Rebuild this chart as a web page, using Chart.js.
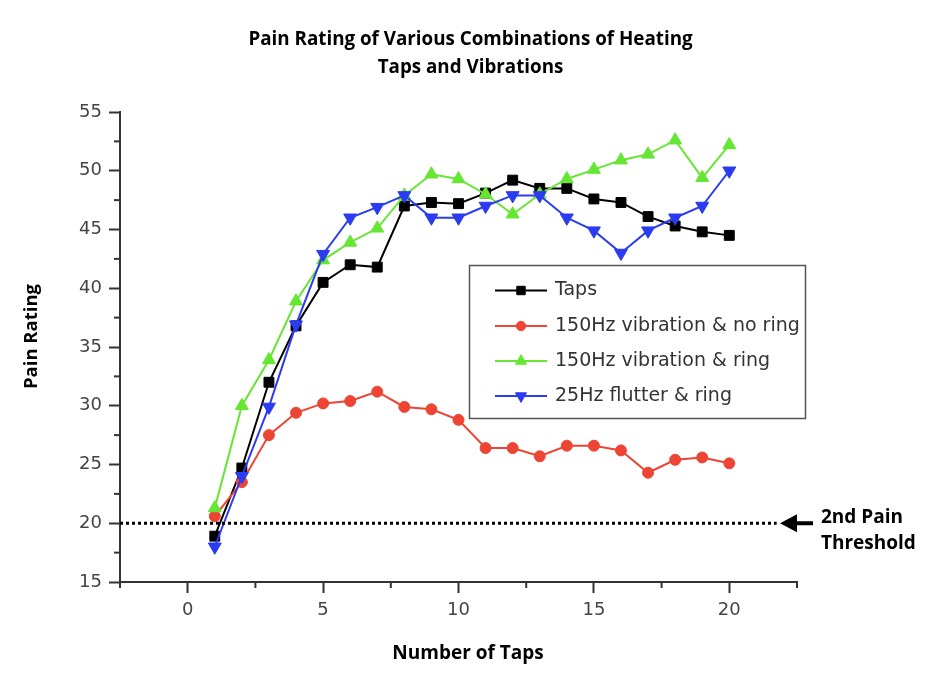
<!DOCTYPE html>
<html><head><meta charset="utf-8">
<script src="https://cdn.jsdelivr.net/npm/chart.js@4.4.1/dist/chart.umd.min.js"></script>
<style>html,body{margin:0;padding:0;background:#fff}#wrap{width:936px;height:700px}</style>
</head><body><div id="wrap"><canvas id="c" width="936" height="700"></canvas></div>
<script>
// ---- data ----
const taps = [1,2,3,4,5,6,7,8,9,10,11,12,13,14,15,16,17,18,19,20];
const tapsRating    = [18.9,24.7,32.0,36.8,40.5,42.0,41.8,47.0,47.3,47.2,48.1,49.2,48.5,48.5,47.6,47.3,46.1,45.3,44.8,44.5];
const noRingRating  = [20.6,23.5,27.5,29.4,30.2,30.4,31.2,29.9,29.7,28.8,26.4,26.4,25.7,26.6,26.6,26.2,24.3,25.4,25.6,25.1];
const ringRating    = [21.3,30.0,33.9,38.9,42.4,43.9,45.1,47.9,49.7,49.3,48.0,46.3,48.0,49.3,50.1,50.9,51.4,52.6,49.4,52.2];
const flutterRating = [18.0,24.0,29.9,36.9,42.9,46.0,46.9,47.9,46.0,46.0,47.0,47.9,47.9,46.0,44.9,43.0,44.9,46.0,47.0,50.0];
const seriesLabels = ['Taps','150Hz vibration & no ring','150Hz vibration & ring','25Hz flutter & ring'];
const xTickLabels = [0,5,10,15,20];
const yTickLabels = [15,20,25,30,35,40,45,50,55];
const thresholdValue = 20;
const thresholdEnd = 21.75;
const titleLines = ['Pain Rating of Various Combinations of Heating','Taps and Vibrations'];
const xTitle = 'Number of Taps';
const yTitle = 'Pain Rating';
const thresholdLabel = ['2nd Pain','Threshold'];

const colors = ['#000000','#EE4433','#66E633','#2B3BF0'];
const styles = [
  {pointStyle:'rect', radius:7, rotation:0},
  {pointStyle:'circle', radius:5.5, rotation:0},
  {pointStyle:'triangle', radius:7.5, rotation:0},
  {pointStyle:'triangle', radius:7.5, rotation:180}
];
const seriesValues = [tapsRating, noRingRating, ringRating, flutterRating];

const datasets = seriesValues.map((vals,i)=>({
  label: seriesLabels[i],
  data: taps.map((x,j)=>({x:x, y:vals[j]})),
  borderColor: colors[i], backgroundColor: colors[i],
  pointBackgroundColor: colors[i], pointBorderColor: colors[i],
  pointStyle: styles[i].pointStyle, pointRadius: styles[i].radius, pointRotation: styles[i].rotation,
  pointBorderWidth: 1, borderWidth: 2, tension: 0, order: 4 - i
}));
datasets.push({
  label: 'threshold',
  data: [{x:-2.5,y:thresholdValue},{x:thresholdEnd,y:thresholdValue}],
  borderColor:'#000', borderWidth:3, borderDash:[3,3], pointRadius:0, order:0
});

const AX = '#333333';
function axisCommon(labels){
  return {
    grid:{display:true, drawOnChartArea:false, drawTicks:true, tickLength:11, tickWidth:2,
      tickColor: c => (c.tick && labels.includes(c.tick.value)) ? AX : 'rgba(0,0,0,0)'},
    border:{display:true, color:AX, width:2}
  };
}

const decor = {
  id:'decor',
  afterDraw(chart){
    const ctx = chart.ctx, xs = chart.scales.x, ys = chart.scales.y;
    ctx.save();
    // minor ticks
    ctx.strokeStyle = AX; ctx.lineWidth = 2;
    xs.ticks.forEach(t=>{ if(!xTickLabels.includes(t.value)){ const p = xs.getPixelForValue(t.value); ctx.beginPath(); ctx.moveTo(p, xs.top); ctx.lineTo(p, xs.top+6); ctx.stroke(); }});
    ys.ticks.forEach(t=>{ if(!yTickLabels.includes(t.value)){ const p = ys.getPixelForValue(t.value); ctx.beginPath(); ctx.moveTo(ys.right, p); ctx.lineTo(ys.right-6, p); ctx.stroke(); }});
    // title
    ctx.fillStyle = '#000'; ctx.textAlign = 'center'; ctx.textBaseline = 'alphabetic';
    ctx.font = 'bold 18.8px "Open Sans"';
    ctx.fillText(titleLines[0], 470.5, 45);
    ctx.fillText(titleLines[1], 470.5, 73);
    ctx.font = 'bold 19px "Open Sans"';
    ctx.fillText(xTitle, 468, 659);
    ctx.font = 'bold 18.5px "Open Sans"';
    ctx.save(); ctx.translate(37, 336.5); ctx.rotate(-Math.PI/2); ctx.fillText(yTitle, 0, 0); ctx.restore();
    // threshold arrow + label
    const ty = ys.getPixelForValue(thresholdValue);
    ctx.beginPath(); ctx.moveTo(780, ty); ctx.lineTo(797, ty-9); ctx.lineTo(797, ty+9); ctx.closePath(); ctx.fill();
    ctx.fillRect(795, ty-2, 18, 4);
    ctx.textAlign = 'left'; ctx.font = 'bold 19px "Open Sans"';
    ctx.fillText(thresholdLabel[0], 821, ty);
    ctx.fillText(thresholdLabel[1], 821, ty+26);
    // legend
    ctx.fillStyle = '#fff'; ctx.fillRect(469, 265, 336, 153);
    ctx.strokeStyle = '#555'; ctx.lineWidth = 1.5; ctx.setLineDash([]);
    ctx.strokeRect(469.5, 265.5, 336, 153);
    const rows = [290.5, 326, 361, 396];
    for(let i=0;i<4;i++){
      const y = rows[i];
      ctx.strokeStyle = colors[i]; ctx.lineWidth = 2;
      ctx.beginPath(); ctx.moveTo(495, y); ctx.lineTo(547, y); ctx.stroke();
      ctx.fillStyle = colors[i]; ctx.strokeStyle = colors[i]; ctx.lineWidth = 1;
      Chart.helpers.drawPoint(ctx, {pointStyle: styles[i].pointStyle, radius: styles[i].radius*0.85, rotation: styles[i].rotation, borderWidth:1}, 521, y);
      ctx.fillStyle = '#333'; ctx.font = '19px "DejaVu Sans"'; ctx.textBaseline = 'middle';
      ctx.fillText(seriesLabels[i], 555, y);
    }
    ctx.restore();
  }
};

new Chart(document.getElementById('c'), {
  type:'line',
  data:{datasets},
  options:{
    responsive:false, animation:false, devicePixelRatio:1,
    layout:{padding:{left:0, top:112, right:139, bottom:0}},
    plugins:{legend:{display:false}, title:{display:false}, tooltip:{enabled:false}},
    scales:{
      x:{type:'linear', min:-2.5, max:22.5,
        ticks:{stepSize:2.5, autoSkip:false, maxRotation:0, padding:7, color:'#444', font:{family:'DejaVu Sans', size:18},
          callback: v => xTickLabels.includes(v) ? String(v) : ''},
        afterFit: s => { s.height = 118; },
        ...axisCommon(xTickLabels)},
      y:{type:'linear', min:15, max:55,
        ticks:{stepSize:2.5, autoSkip:false, padding:7, color:'#444', font:{family:'DejaVu Sans', size:18},
          callback: v => yTickLabels.includes(v) ? String(v) : ''},
        afterFit: s => { s.width = 120; },
        ...axisCommon(yTickLabels)}
    }
  },
  plugins:[decor]
});
</script></body></html>
